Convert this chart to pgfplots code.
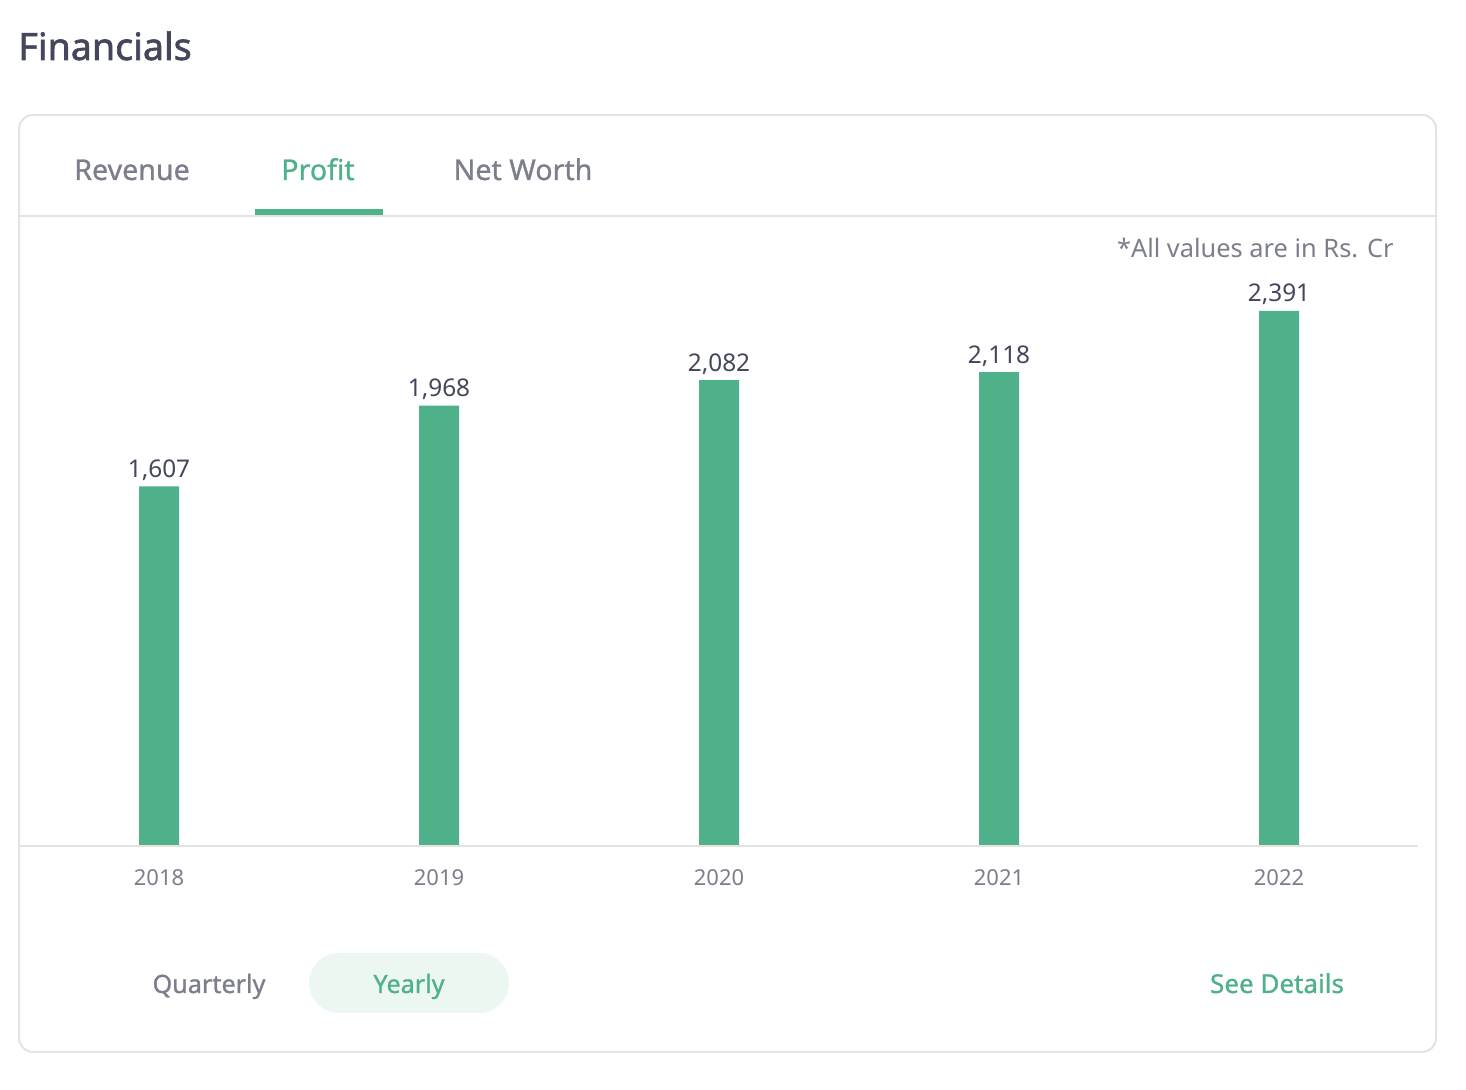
\documentclass[border=0pt]{standalone}
\usepackage{pgfplots}
\pgfplotsset{compat=1.18}
\usepackage{fontspec}
\setmainfont{Noto Sans}
\newfontfamily\medfont[FakeBold=0.9]{Noto Sans}
\newfontfamily\semifont[FakeBold=1.6]{Noto Sans}
\definecolor{grn}{HTML}{4FB18A}
\definecolor{dark}{HTML}{44475B}
\definecolor{gtxt}{HTML}{7C7E8C}
\definecolor{bord}{HTML}{E3E3E3}
\definecolor{pill}{HTML}{ECF7F2}
\begin{document}
\begin{tikzpicture}[x=1pt,y=1pt]
\fill[white] (0,0) rectangle (733,545);
% title
\node[anchor=base west, inner sep=0pt, text=dark, font=\semifont\fontsize{18.8}{22}\selectfont] at (9,515) {Financials};
% card
\draw[bord, line width=1pt, rounded corners=7pt] (9.5,19) rectangle (718,487.5);
\draw[bord, line width=1pt] (9.5,437) -- (718,437);
\fill[grn] (127.5,437.5) rectangle (191.5,440.3);
% tabs
\node[anchor=base, inner sep=0pt, text=gtxt, font=\medfont\fontsize{14.3}{17}\selectfont] at (66,455) {Revenue};
\node[anchor=base, inner sep=0pt, text=grn, font=\medfont\fontsize{14.3}{17}\selectfont] at (159,455) {Profit};
\node[anchor=base, inner sep=0pt, text=gtxt, font=\medfont\fontsize{14.3}{17}\selectfont] at (261.5,455) {Net Worth};
\node[anchor=base east, inner sep=0pt, text=gtxt, font=\fontsize{12.7}{15}\selectfont] at (697,416) {*All values are in Rs. Cr};
% chart
\begin{axis}[
  at={(9pt,122pt)}, anchor=south west,
  scale only axis, width=700pt, height=267.5pt,
  xmin=-0.5036, xmax=4.4964, ymin=0, ymax=2391,
  axis lines=none,
  clip=false,
  xtick=\empty, ytick=\empty,
  /pgf/number format/.cd, 1000 sep={,}, fixed, precision=0, assume math mode=true,
]
\addplot[ybar, bar width=20pt, fill=grn, draw=none,
  nodes near coords,
  every node near coord/.append style={anchor=base, inner sep=0pt, yshift=4.5pt, text=dark, font=\fontsize{12.2}{15}\selectfont}]
  coordinates {(0,1607) (1,1968) (2,2082) (3,2118) (4,2391)};
\draw[bord, line width=1pt] (axis cs:-0.5036,0) -- (axis cs:4.4964,0);
\end{axis}
\begin{axis}[
  at={(9pt,122pt)}, anchor=south west,
  scale only axis, width=700pt, height=267.5pt,
  xmin=-0.5036, xmax=4.4964, ymin=0, ymax=2391,
  hide y axis, axis x line*=bottom, x axis line style={draw=none},
  xtick={0,1,2,3,4}, xticklabels={2018,2019,2020,2021,2022},
  major tick length=0pt,
  xticklabel style={anchor=base, inner sep=0pt, yshift=-20pt, text=gtxt, font=\fontsize{11}{13}\selectfont},
]
\addplot[draw=none] coordinates {(0,0)};
\end{axis}
% bottom controls
\node[anchor=base, inner sep=0pt, text=gtxt, font=\medfont\fontsize{12.6}{15}\selectfont] at (104.5,48.5) {Quarterly};
\fill[pill, rounded corners=15pt] (154.5,38.5) rectangle (254.5,68.5);
\node[anchor=base, inner sep=0pt, text=grn, font=\medfont\fontsize{12.6}{15}\selectfont] at (204.5,48.5) {Yearly};
\node[anchor=base, inner sep=0pt, text=grn, font=\medfont\fontsize{13}{15}\selectfont] at (638.5,48.5) {See Details};
\end{tikzpicture}
\end{document}
